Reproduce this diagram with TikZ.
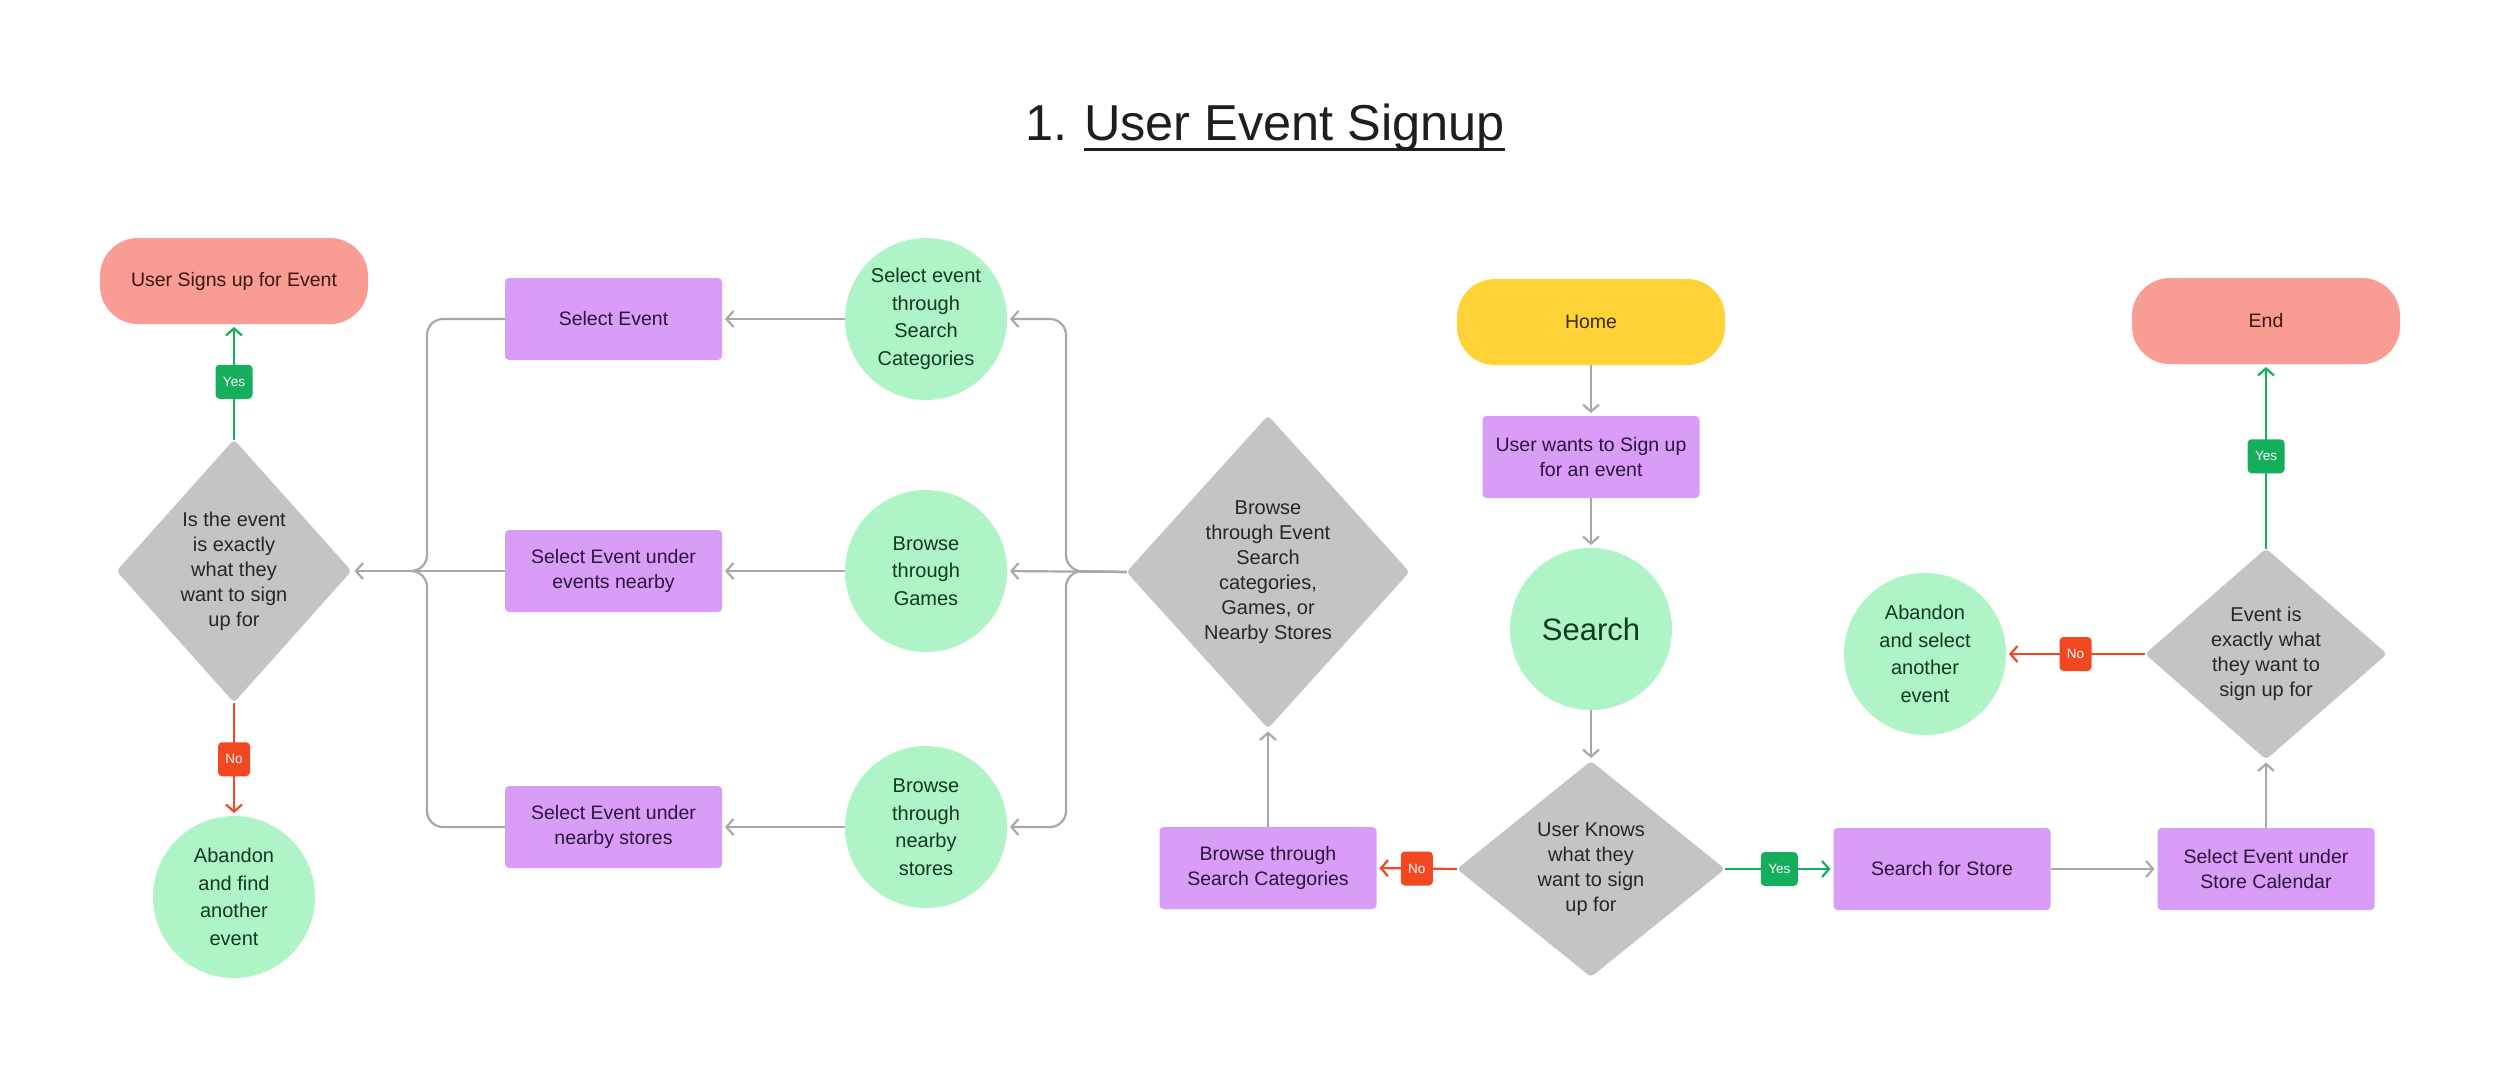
\documentclass[tikz,border=0pt]{standalone}
\usepackage{fontspec}
\setmainfont{Liberation Sans}
\usetikzlibrary{shapes.geometric,arrows.meta}
\definecolor{pinkF}{HTML}{F99C94}
\definecolor{pinkT}{HTML}{3F1511}
\definecolor{yellowF}{HTML}{FFD338}
\definecolor{yellowT}{HTML}{3A2C05}
\definecolor{purpleF}{HTML}{D99DF8}
\definecolor{purpleT}{HTML}{2C1240}
\definecolor{greenF}{HTML}{AFF4C6}
\definecolor{greenT}{HTML}{0F3A1F}
\definecolor{grayF}{HTML}{C4C4C4}
\definecolor{diaT}{HTML}{262626}
\definecolor{lineG}{HTML}{A8A8A8}
\definecolor{greenL}{HTML}{14AE5C}
\definecolor{redL}{HTML}{F24822}
\definecolor{titleT}{HTML}{1E1E1E}
\newcommand{\nfont}{\fontsize{19.5pt}{25.5pt}\selectfont}
\newcommand{\cfont}{\fontsize{20pt}{27.5pt}\selectfont}
\newcommand{\dfont}{\fontsize{20pt}{25pt}\selectfont}
\newcommand{\bfont}{\fontsize{13.5pt}{16pt}\selectfont}
\newcommand{\tfont}{\fontsize{50.5pt}{60pt}\selectfont}
\newcommand{\sfont}{\fontsize{31pt}{36pt}\selectfont}
\begin{document}
\begin{tikzpicture}[x=1pt,y=-1pt,
  rectbox/.style={rectangle, rounded corners=4pt, fill=purpleF, text=purpleT, minimum width=217pt, minimum height=82pt, inner sep=0pt, outer sep=0pt, align=center, font=\nfont},
  pill/.style={rectangle, rounded corners=38pt, minimum width=268pt, minimum height=86pt, inner sep=0pt, outer sep=0pt, align=center, font=\nfont},
  circ/.style={circle, fill=greenF, text=greenT, minimum size=162pt, inner sep=0pt, outer sep=0pt, align=center, font=\cfont},
  dia/.style={diamond, fill=grayF, inner sep=0pt, outer sep=0pt, rounded corners=4pt},
  dtext/.style={align=center, text=diaT, font=\dfont, inner sep=0pt},
  conn/.style={draw=lineG, line width=2.2pt, -{Straight Barb[length=7pt,width=16pt]}, shorten >=3pt},
  plain/.style={draw=lineG, line width=2.2pt},
  yconn/.style={conn, draw=greenL},
  nconn/.style={conn, draw=redL},
  badge/.style={rectangle, rounded corners=4pt, minimum height=34pt, inner sep=0pt, text=white, font=\bfont},
  yesb/.style={badge, fill=greenL, minimum width=37pt},
  nob/.style={badge, fill=redL, minimum width=32pt},
  ttl/.style={inner sep=0pt, outer sep=0pt, text=titleT, font=\tfont, anchor=base west}
]
\fill[white] (0,0) rectangle (2500,1077);
\useasboundingbox (0,0) rectangle (2500,1077);

% title
\node[ttl] (t1) at (1025,140) {1.};
\node[ttl] (t2) at (1084,140) {User Event Signup};
\draw[titleT, line width=3pt] ([yshift=-9pt]t2.base west) -- ([yshift=-9pt]t2.base east);

% left part
\node[pill, fill=pinkF, text=pinkT] (pU) at (234,281) {User Signs up for Event};
\node[dia, minimum width=235pt, minimum height=263pt] (d1) at (234,571) {};
\node[dtext] (d1t) at (d1.center) {Is the event\\is exactly\\what they\\want to sign\\up for};
\node[circ] (ab1) at (234,897) {Abandon\\and find\\another\\event};

\node[rectbox] (sel1) at (613.5,319) {Select Event};
\node[rectbox] (sel2) at (613.5,571) {Select Event under\\events nearby};
\node[rectbox] (sel3) at (613.5,827) {Select Event under\\nearby stores};

\node[circ] (c1) at (926,319) {Select event\\through\\Search\\Categories};
\node[circ] (c2) at (926,571) {Browse\\through\\Games};
\node[circ] (c3) at (926,827) {Browse\\through\\nearby\\stores};

\node[dia, minimum width=283pt, minimum height=313pt] (d2) at (1268,572) {};
\node[dtext] (d2t) at (d2.center) {Browse\\through Event\\Search\\categories,\\Games, or\\Nearby Stores};
\node[rectbox] (bsc) at (1268,868) {Browse through\\Search Categories};

% middle column
\node[pill, fill=yellowF, text=yellowT] (home) at (1591,322) {Home};
\node[rectbox] (uw) at (1591,457) {User wants to Sign up\\for an event};
\node[circ, font=\sfont] (search) at (1591,629) {Search};
\node[dia, minimum width=268pt, minimum height=216pt] (d3) at (1591,869) {};
\node[dtext] (d3t) at (d3.center) {User Knows\\what they\\want to sign\\up for};

% right part
\node[rectbox] (sfs) at (1942,869) {Search for Store};
\node[rectbox] (sesc) at (2266,869) {Select Event under\\Store Calendar};
\node[dia, minimum width=242pt, minimum height=211pt] (d4) at (2266,654) {};
\node[dtext] (d4t) at (d4.center) {Event is\\exactly what\\they want to\\sign up for};
\node[circ] (ab2) at (1925,654) {Abandon\\and select\\another\\event};
\node[pill, fill=pinkF, text=pinkT] (endn) at (2266,321) {End};

% junction coordinates
\coordinate (jl) at (427,571);
\coordinate (jr) at (1066,571);

% connectors left
\draw[yconn] (d1.north) -- node[yesb] (y1) {Yes} (pU.south);
\draw[nconn] (d1.south) -- node[nob] (n1) {No} (ab1.north);
\draw[conn] (sel2.west) -- (d1.east);
\draw[plain, rounded corners=16pt] (sel1.west) -| (jl) -- ++(-16,0);
\draw[plain, rounded corners=16pt] (sel3.west) -| (jl) -- ++(-16,0);

\draw[conn] (c1.west) -- (sel1.east);
\draw[conn] (c2.west) -- (sel2.east);
\draw[conn] (c3.west) -- (sel3.east);

\draw[conn] (d2.west) -- (c2.east);
\draw[conn, rounded corners=16pt] (d2.west) -- (jr) |- (c1.east);
\draw[conn, rounded corners=16pt] (d2.west) -- (jr) |- (c3.east);

\draw[conn] (bsc.north) -- (d2.south);

% middle connectors
\draw[conn] (home.south) -- (uw.north);
\draw[conn] (uw.south) -- (search.north);
\draw[conn] (search.south) -- (d3.north);
\draw[nconn] (d3.west) -- node[nob] (n2) {No} (bsc.east);
\draw[yconn] (d3.east) -- node[yesb] (y2) {Yes} (sfs.west);

% right connectors
\draw[conn] (sfs.east) -- (sesc.west);
\draw[conn] (sesc.north) -- (d4.south);
\draw[nconn] (d4.west) -- node[nob] (n3) {No} (ab2.east);
\draw[yconn] (d4.north) -- node[yesb] (y3) {Yes} (endn.south);
\end{tikzpicture}
\end{document}
